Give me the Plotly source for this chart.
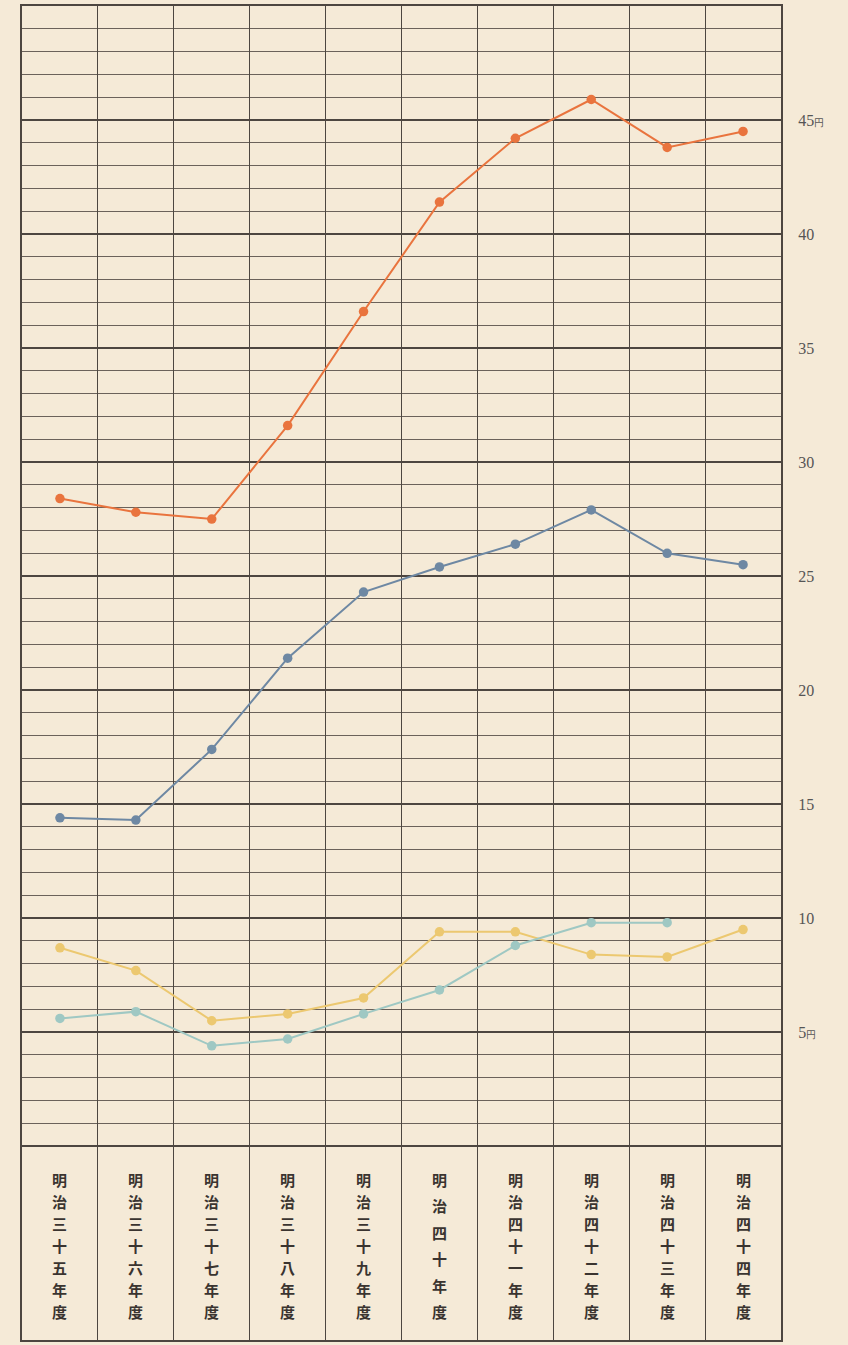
import plotly.graph_objects as go

# Fiscal years (Meiji 35 - Meiji 44)
years = ["明治三十五年度", "明治三十六年度", "明治三十七年度", "明治三十八年度", "明治三十九年度",
         "明治四十年度", "明治四十一年度", "明治四十二年度", "明治四十三年度", "明治四十四年度"]

# Values in yen
orange_vals = [28.4, 27.8, 27.5, 31.6, 36.6, 41.4, 44.2, 45.9, 43.8, 44.5]
blue_vals = [14.4, 14.3, 17.4, 21.4, 24.3, 25.4, 26.4, 27.9, 26.0, 25.5]
yellow_vals = [8.7, 7.7, 5.5, 5.8, 6.5, 9.4, 9.4, 8.4, 8.3, 9.5]
cyan_vals = [5.6, 5.9, 4.4, 4.7, 5.8, 6.85, 8.8, 9.8, 9.8, None]

# Right-hand axis ticks
major_ticks = [0, 5, 10, 15, 20, 25, 30, 35, 40, 45, 50]
major_text = ["", "5<span style='font-size:10px'>円</span>", "10", "15", "20", "25", "30", "35", "40",
              "45<span style='font-size:10px'>円</span>", ""]
minor_ticks = [v for v in range(1, 50) if v % 5 != 0]

PAPER = "#f5ead7"
INK = "#4d4640"

x = list(range(len(years)))

fig = go.Figure()

series = [
    (orange_vals, "#e9743e"),
    (blue_vals, "#6e88a3"),
    (yellow_vals, "#ecc870"),
    (cyan_vals, "#9fc8c3"),
]
for vals, color in series:
    fig.add_trace(go.Scatter(
        x=x, y=vals, mode="lines+markers",
        line=dict(color=color, width=2),
        marker=dict(color=color, size=9.5),
        connectgaps=False, showlegend=False, hoverinfo="skip",
    ))

# Vertical year labels: characters spread evenly down each column of the label band
LABEL_TOP, LABEL_BOTTOM = -1.45, -7.25
for i, name in enumerate(years):
    n = len(name)
    step = (LABEL_TOP - LABEL_BOTTOM) / (n - 1)
    for k, ch in enumerate(name):
        fig.add_annotation(
            x=i, y=LABEL_TOP - k * step, xref="x", yref="y",
            text=ch, showarrow=False,
            font=dict(family="Noto Sans CJK JP", size=15, color="#3a3430", weight="bold"),
            xanchor="center", yanchor="middle",
        )

fig.update_layout(
    width=848, height=1345,
    margin=dict(l=22, r=67, t=6, b=5),
    paper_bgcolor=PAPER, plot_bgcolor=PAPER,
    showlegend=False,
    font=dict(family="Liberation Serif", color="#555"),
)

fig.update_xaxes(
    range=[-0.5, 9.5],
    tickmode="array", tickvals=[i + 0.5 for i in range(9)],
    showticklabels=False, ticks="",
    showgrid=True, gridcolor=INK, gridwidth=1.3,
    showline=True, linecolor=INK, linewidth=2, mirror=True,
    zeroline=False,
)

fig.update_yaxes(
    range=[-8.5, 50],
    side="right",
    tickmode="array", tickvals=major_ticks, ticktext=major_text,
    ticks="", ticklabelstandoff=12,
    tickfont=dict(family="Liberation Serif", size=16, color="#555"),
    showgrid=True, gridcolor=INK, gridwidth=2.2,
    minor=dict(tickmode="array", tickvals=minor_ticks, showgrid=True,
               gridcolor="#6b625a", gridwidth=1),
    showline=True, linecolor=INK, linewidth=2, mirror=True,
    zeroline=False,
)

fig.write_html("out.html")
